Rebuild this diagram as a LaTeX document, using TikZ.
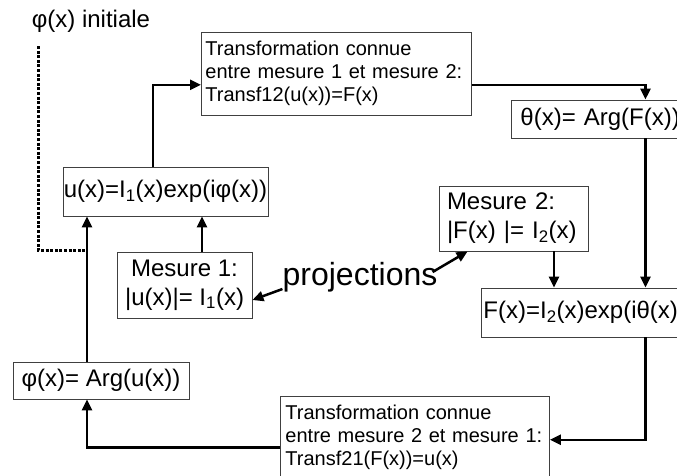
\documentclass[tikz,border=0pt]{standalone}
\usepackage{fontspec}
\setmainfont{Liberation Sans}
\usetikzlibrary{arrows.meta}
\definecolor{boxgray}{HTML}{404040}
\newcommand\lsub[1]{\textsubscript{#1}}
\begin{document}
\begin{tikzpicture}[x=1pt,y=-1pt,
  box/.style={draw=boxgray, line width=0.9pt, inner sep=0pt, font=\fontsize{24}{29}\selectfont},
  sbox/.style={draw=boxgray, line width=0.9pt, font=\fontsize{20}{23}\selectfont, align=left},
  arr/.style={line width=2.5pt, -{Triangle[length=11pt,width=10pt]}},
  dotline/.style={line width=3pt, dash pattern=on 3pt off 1.6pt}]
\useasboundingbox (0,0) rectangle (677,475);
\clip (0,0) rectangle (677,475);

\node[font=\fontsize{24}{29}\selectfont, inner sep=0pt, anchor=base] (init) at (91,27) {φ(x) initiale};

\node[box, minimum width=205pt, minimum height=49pt] (u) at (165.5,191.5) {u(x)=I\lsub{1}(x)exp(iφ(x))};

\node[sbox, anchor=north west, text width=262pt, inner xsep=4pt, inner ysep=9pt] (t12) at (201,32)
  {Transformation connue\\entre mesure 1 et mesure 2:\\Transf12(u(x))=F(x)};

\node[box, anchor=west, text width=250pt, inner xsep=9pt, minimum height=38pt, align=left] (theta) at (511,119) {θ(x)= Arg(F(x))};

\node[box, text width=133pt, inner xsep=8pt, minimum height=65pt, align=left] (m2) at (513.5,218.5) {Mesure 2:\\|F(x) |= I\lsub{2}(x)};

\node[box, anchor=west, text width=324pt, inner xsep=2pt, minimum height=49pt, align=left] (F) at (481,312.5) {F(x)=I\lsub{2}(x)exp(iθ(x))};

\node[box, minimum width=135pt, minimum height=66pt, align=center] (m1) at (184.5,285) {Mesure 1:\\|u(x)|= I\lsub{1}(x)};

\node[box, minimum width=176pt, minimum height=37pt] (phi) at (101,380.5) {φ(x)= Arg(u(x))};

\node[sbox, anchor=north west, text width=259pt, inner xsep=5pt, inner ysep=9pt] (t21) at (280,396)
  {Transformation connue\\entre mesure 2 et mesure 1:\\Transf21(F(x))=u(x)};

\node[font=\fontsize{32}{36}\selectfont, inner sep=0pt, anchor=base] (proj) at (360,285) {projections};

\coordinate (dotstart) at (38,46);
\coordinate (dotend) at (85,250);

% connectors
\draw[arr] ([xshift=-12.5pt]u.north) |- ([yshift=-11pt]t12.west);
\draw[arr] ([yshift=-11pt]t12.east) -| (theta.north);
\draw[arr] (theta.south) -- (F.north);
\draw[arr] ([xshift=40.5pt]m2.south) -- ([xshift=40.5pt]m2.south |- F.north);
\draw[arr] (F.south) |- ([yshift=-2pt]t21.east);
\draw[arr] ([yshift=-9.5pt]t21.west) -| ([xshift=-14pt]phi.south);
\draw[arr] ([xshift=-14pt]phi.north) -- ([xshift=-14pt]phi.north |- u.south);
\draw[arr] ([xshift=17.5pt]m1.north) -- ([xshift=17.5pt]m1.north |- u.south);
\draw[arr] ([yshift=-4pt]proj.base west) -- ([yshift=-15pt]m1.east);
\draw[arr] ([xshift=-5pt,yshift=13pt]proj.base east) -- ([xshift=29pt]m2.south west);
\draw[dotline] (dotstart) |- (dotend);
\end{tikzpicture}
\end{document}
